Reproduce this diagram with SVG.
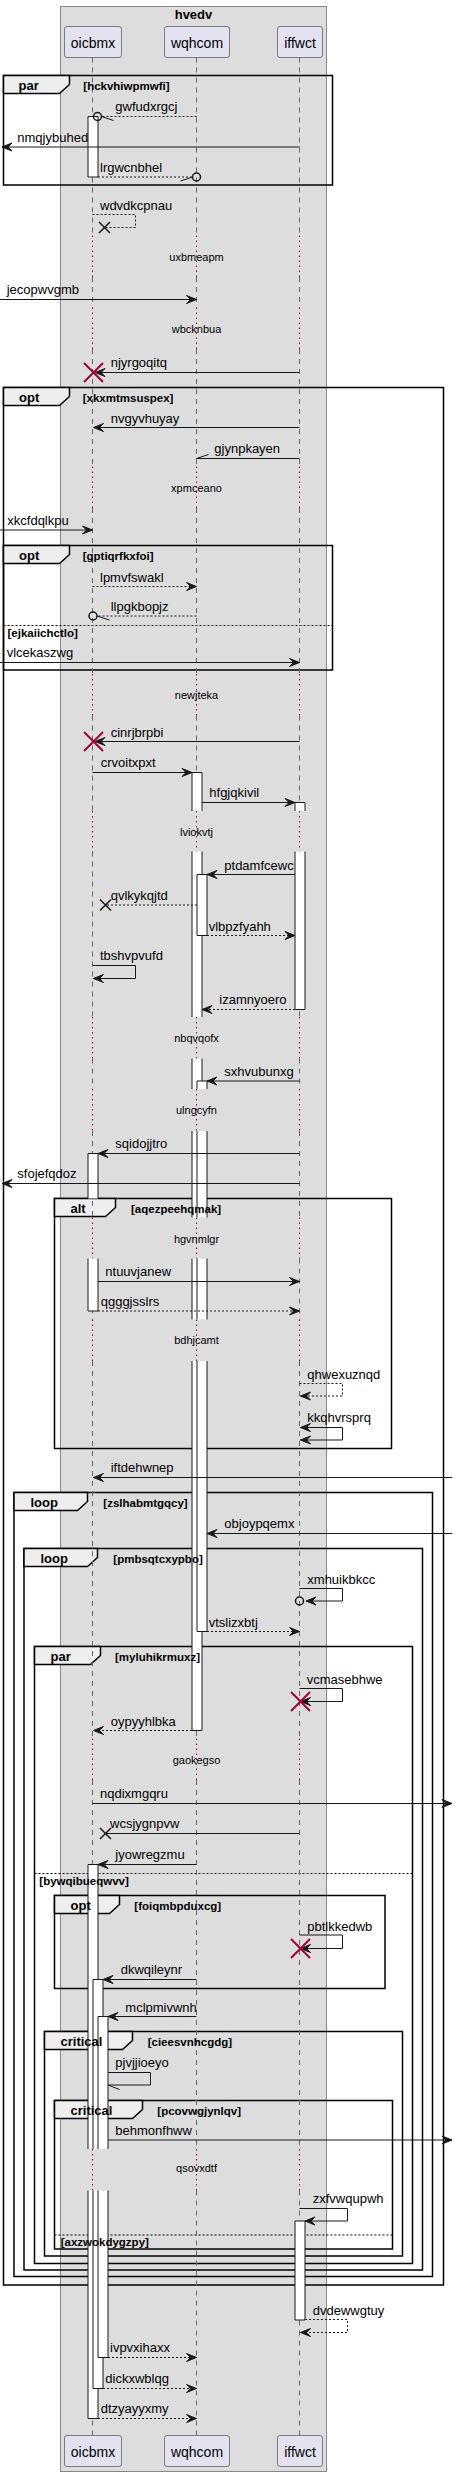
<svg xmlns="http://www.w3.org/2000/svg" width="457" height="2476" viewBox="0 0 457 2476">
<style>
text{font-family:"Liberation Sans",Arial,sans-serif;fill:#000}
.m{font-size:13px}
.dl{font-size:11px;text-anchor:middle}
.fl{font-size:13px;font-weight:bold}
.fc{font-size:11.5px;font-weight:bold}
.pt{font-size:14px;text-anchor:middle}
.ttl{font-size:13px;font-weight:bold;text-anchor:middle}
.ln{stroke:#181818;stroke-width:1;fill:none}
.d{stroke-dasharray:2,2}
.life{stroke:#666;stroke-width:1;stroke-dasharray:5,5;fill:none}
.dot{stroke:#A80036;stroke-width:1;stroke-dasharray:1.5,3.5;fill:none}
.frame{fill:none;stroke:#000;stroke-width:1.5}
.tab{fill:#EEEEEE;stroke:#000;stroke-width:1.5}
.els{stroke:#000;stroke-width:1;stroke-dasharray:2,2}
.bar{fill:#fff;stroke:none}
.be{stroke:#181818;stroke-width:1;fill:none}
.rx{stroke:#A80036;stroke-width:2}
.bx{stroke:#181818;stroke-width:1.5}
.circ{fill:none;stroke:#181818;stroke-width:1.5}
.part{fill:#E2E2F0;stroke:#181818;stroke-width:0.5}
</style>
<defs>
<marker id="ah" markerUnits="userSpaceOnUse" markerWidth="14" markerHeight="12" viewBox="-12 -6 14 12" refX="0" refY="0" orient="auto-start-reverse" overflow="visible">
<path d="M-10,-4 L0,0 L-10,4 L-6,0 Z" fill="#181818" stroke="#181818" stroke-width="1" stroke-dasharray="none"/>
</marker>
</defs>

<g id="box-hvedv">
<rect x="60.5" y="6.5" width="266" height="2465" fill="#DDDDDD" stroke="#888" stroke-width="1"/>
<text class="ttl" x="193.5" y="19">hvedv</text>
</g>

<g id="frames">
<g id="f-par1">
<rect class="frame" x="3.5" y="75.5" width="329" height="109.5"/>
<path class="tab" d="M3.5,75.5 H69.5 V84.5 L59.5,93.5 H3.5 Z"/>
</g>
<g id="f-opt1">
<rect class="frame" x="3.5" y="387.5" width="440" height="1897.5"/>
<path class="tab" d="M3.5,387.5 H69.5 V396.5 L59.5,405.5 H3.5 Z"/>
</g>
<g id="f-opt2">
<rect class="frame" x="3.5" y="545.5" width="329" height="124.5"/>
<path class="tab" d="M3.5,545.5 H69.5 V554.5 L59.5,563.5 H3.5 Z"/>
<line class="els" x1="3.5" y1="625.5" x2="332.5" y2="625.5"/>
</g>
<g id="f-alt">
<rect class="frame" x="54.5" y="1198.5" width="337" height="250"/>
<path class="tab" d="M54.5,1198.5 H115.5 V1207.5 L105.5,1216.5 H54.5 Z"/>
</g>
<g id="f-loop1">
<rect class="frame" x="14" y="1492.5" width="418.5" height="784"/>
<path class="tab" d="M14,1492.5 H87.5 V1501.5 L77.5,1510.5 H14 Z"/>
</g>
<g id="f-loop2">
<rect class="frame" x="24" y="1548.5" width="398.5" height="721.5"/>
<path class="tab" d="M24,1548.5 H97.5 V1557.5 L87.5,1566.5 H24 Z"/>
</g>
<g id="f-par2">
<rect class="frame" x="34.5" y="1646.5" width="378" height="617"/>
<path class="tab" d="M34.5,1646.5 H100.5 V1655.5 L90.5,1664.5 H34.5 Z"/>
<line class="els" x1="34.5" y1="1873.5" x2="412.5" y2="1873.5"/>
</g>
<g id="f-opt3">
<rect class="frame" x="54.5" y="1895.5" width="330.5" height="93"/>
<path class="tab" d="M54.5,1895.5 H119.5 V1904.5 L109.5,1913.5 H54.5 Z"/>
</g>
<g id="f-crit1">
<rect class="frame" x="44.5" y="2031.5" width="358" height="224.5"/>
<path class="tab" d="M44.5,2031.5 H132.5 V2040.5 L122.5,2049.5 H44.5 Z"/>
</g>
<g id="f-crit2">
<rect class="frame" x="54.5" y="2100.5" width="338" height="148.5"/>
<path class="tab" d="M54.5,2100.5 H142.5 V2109.5 L132.5,2118.5 H54.5 Z"/>
<line class="els" x1="54.5" y1="2235" x2="392.5" y2="2235"/>
</g>
</g>

<g id="lifelines">
<path class="life" d="M92.5,57.5 V235.5 M92.5,277 V307.5 M92.5,349 V466.5 M92.5,508 V674 M92.5,715.5 V811 M92.5,851.5 V1017 M92.5,1058.5 V1089 M92.5,1131 V1217.5 M92.5,1258.5 V1319.5 M92.5,1361 V1738.5 M92.5,1780 V2149 M92.5,2190.5 V2435.5"/>
<path class="life" d="M196.5,57.5 V235.5 M196.5,277 V307.5 M196.5,349 V466.5 M196.5,508 V674 M196.5,715.5 V811 M196.5,851.5 V1017 M196.5,1058.5 V1089 M196.5,1131 V1217.5 M196.5,1258.5 V1319.5 M196.5,1361 V1738.5 M196.5,1780 V2149 M196.5,2190.5 V2435.5"/>
<path class="life" d="M299.5,57.5 V235.5 M299.5,277 V307.5 M299.5,349 V466.5 M299.5,508 V674 M299.5,715.5 V811 M299.5,851.5 V1017 M299.5,1058.5 V1089 M299.5,1131 V1217.5 M299.5,1258.5 V1319.5 M299.5,1361 V1738.5 M299.5,1780 V2149 M299.5,2190.5 V2435.5"/>
<path class="dot" d="M92.5,235.5 V277 M92.5,307.5 V349 M92.5,466.5 V508 M92.5,674 V715.5 M92.5,811 V851.5 M92.5,1017 V1058.5 M92.5,1089 V1131 M92.5,1217.5 V1258.5 M92.5,1319.5 V1361 M92.5,1738.5 V1780 M92.5,2149 V2190.5"/>
<path class="dot" d="M196.5,235.5 V277 M196.5,307.5 V349 M196.5,466.5 V508 M196.5,674 V715.5 M196.5,811 V851.5 M196.5,1017 V1058.5 M196.5,1089 V1131 M196.5,1217.5 V1258.5 M196.5,1319.5 V1361 M196.5,1738.5 V1780 M196.5,2149 V2190.5"/>
<path class="dot" d="M299.5,235.5 V277 M299.5,307.5 V349 M299.5,466.5 V508 M299.5,674 V715.5 M299.5,811 V851.5 M299.5,1017 V1058.5 M299.5,1089 V1131 M299.5,1217.5 V1258.5 M299.5,1319.5 V1361 M299.5,1738.5 V1780 M299.5,2149 V2190.5"/>
</g>

<g id="delays">
<text class="dl" x="196.5" y="260.7">uxbmeapm</text>
<text class="dl" x="196.5" y="332.7">wbcknbua</text>
<text class="dl" x="196.5" y="491.7">xpmceano</text>
<text class="dl" x="196.5" y="699.3">newjteka</text>
<text class="dl" x="196.5" y="835.7">lviokvtj</text>
<text class="dl" x="196.5" y="1041.7">nbqvqofx</text>
<text class="dl" x="196.5" y="1114.3">ulngcyfn</text>
<text class="dl" x="196.5" y="1242.7">hgvnmlgr</text>
<text class="dl" x="196.5" y="1344">bdhjcamt</text>
<text class="dl" x="196.5" y="1764">gaokegso</text>
<text class="dl" x="196.5" y="2172.3">qsovxdtf</text>
</g>

<g id="activations">
<rect class="bar" x="88" y="116.5" width="10" height="60.5"/><path class="be" d="M88,116.5 V177 M98,116.5 V177 M88,116.5 H98 M88,177 H98"/>
<rect class="bar" x="88" y="1153.5" width="10" height="45"/><path class="be" d="M88,1153.5 V1198.5 M98,1153.5 V1198.5 M88,1153.5 H98"/>
<rect class="bar" x="88" y="1258.5" width="10" height="52.5"/><path class="be" d="M88,1258.5 V1311 M98,1258.5 V1311 M88,1311 H98"/>
<rect class="bar" x="88" y="1864.5" width="10" height="284.5"/><path class="be" d="M88,1864.5 V2149 M98,1864.5 V2149 M88,1864.5 H98"/>
<rect class="bar" x="88" y="2190.5" width="10" height="228"/><path class="be" d="M88,2190.5 V2418.5 M98,2190.5 V2418.5 M88,2418.5 H98"/>
<rect class="bar" x="93" y="1979.5" width="10" height="169.5"/><path class="be" d="M93,1979.5 V2149 M103,1979.5 V2149 M93,1979.5 H103"/>
<rect class="bar" x="93" y="2190.5" width="10" height="198"/><path class="be" d="M93,2190.5 V2388.5 M103,2190.5 V2388.5 M93,2388.5 H103"/>
<rect class="bar" x="98" y="2016.5" width="10" height="132.5"/><path class="be" d="M98,2016.5 V2149 M108,2016.5 V2149 M98,2016.5 H108"/>
<rect class="bar" x="98" y="2190.5" width="10" height="167"/><path class="be" d="M98,2190.5 V2357.5 M108,2190.5 V2357.5 M98,2357.5 H108"/>
<rect class="bar" x="192" y="772.5" width="10" height="38.5"/><path class="be" d="M192,772.5 V811 M202,772.5 V811 M192,772.5 H202"/>
<rect class="bar" x="192" y="851.5" width="10" height="165.5"/><path class="be" d="M192,851.5 V1017 M202,851.5 V1017"/>
<rect class="bar" x="192" y="1058.5" width="10" height="30.5"/><path class="be" d="M192,1058.5 V1089 M202,1058.5 V1089"/>
<rect class="bar" x="192" y="1131" width="10" height="86.5"/><path class="be" d="M192,1131 V1217.5 M202,1131 V1217.5"/>
<rect class="bar" x="192" y="1258.5" width="10" height="61"/><path class="be" d="M192,1258.5 V1319.5 M202,1258.5 V1319.5"/>
<rect class="bar" x="192" y="1361" width="10" height="369.5"/><path class="be" d="M192,1361 V1730.5 M202,1361 V1730.5 M192,1730.5 H202"/>
<rect class="bar" x="197" y="874.5" width="10" height="61"/><path class="be" d="M197,874.5 V935.5 M207,874.5 V935.5 M197,874.5 H207 M197,935.5 H207"/>
<rect class="bar" x="197" y="1081" width="10" height="8"/><path class="be" d="M197,1081 V1089 M207,1081 V1089 M197,1081 H207"/>
<rect class="bar" x="197" y="1131" width="10" height="86.5"/><path class="be" d="M197,1131 V1217.5 M207,1131 V1217.5"/>
<rect class="bar" x="197" y="1258.5" width="10" height="61"/><path class="be" d="M197,1258.5 V1319.5 M207,1258.5 V1319.5"/>
<rect class="bar" x="197" y="1361" width="10" height="270.5"/><path class="be" d="M197,1361 V1631.5 M207,1361 V1631.5 M197,1631.5 H207"/>
<rect class="bar" x="295" y="802.5" width="10" height="8.5"/><path class="be" d="M295,802.5 V811 M305,802.5 V811 M295,802.5 H305"/>
<rect class="bar" x="295" y="851.5" width="10" height="158"/><path class="be" d="M295,851.5 V1009.5 M305,851.5 V1009.5 M295,1009.5 H305"/>
<rect class="bar" x="295" y="2221" width="10" height="99"/><path class="be" d="M295,2221 V2320 M305,2221 V2320 M295,2221 H305 M295,2320 H305"/>
</g>

<g id="frame-labels">
<text class="fl" x="18.5" y="89.8">par</text>
<text class="fc" x="83.3" y="89.8">[hckvhiwpmwfi]</text>
<text class="fl" x="19" y="401.8">opt</text>
<text class="fc" x="82.7" y="401.8">[xkxmtmsuspex]</text>
<text class="fl" x="19" y="559.8">opt</text>
<text class="fc" x="82.7" y="559.8">[gptiqrfkxfoi]</text>
<text class="fc" x="7.5" y="636.8">[ejkaiichctlo]</text>
<text class="fl" x="70.5" y="1212.8">alt</text>
<text class="fc" x="131" y="1212.8">[aqezpeehqmak]</text>
<text class="fl" x="30.5" y="1506.8">loop</text>
<text class="fc" x="103.3" y="1506.8">[zslhabmtgqcy]</text>
<text class="fl" x="40.5" y="1562.8">loop</text>
<text class="fc" x="113.3" y="1562.8">[pmbsqtcxypbo]</text>
<text class="fl" x="50.5" y="1660.8">par</text>
<text class="fc" x="115" y="1660.8">[myluhikrmuxz]</text>
<text class="fc" x="39.3" y="1884.5">[bywqibueqwvv]</text>
<text class="fl" x="70.5" y="1909.8">opt</text>
<text class="fc" x="134.3" y="1909.8">[foiqmbpduxcg]</text>
<text class="fl" x="60.5" y="2045.8">critical</text>
<text class="fc" x="147.7" y="2045.8">[cieesvnhcgdg]</text>
<text class="fl" x="70.5" y="2114.8">critical</text>
<text class="fc" x="157.3" y="2114.8">[pcovwgjynlqv]</text>
<text class="fc" x="60.7" y="2246.3">[axzwokdygzpy]</text>
</g>

<g id="connectors">
<line class="ln d" x1="196.5" y1="116.5" x2="101.5" y2="116.5"/><circle class="circ" cx="97.5" cy="116.5" r="4"/><line class="ln" x1="101.5" y1="116.5" x2="113.5" y2="120.5"/>
<text class="m" x="115.3" y="111.3">gwfudxrgcj</text>
<line class="ln" x1="299.5" y1="147" x2="2" y2="147" marker-end="url(#ah)"/>
<text class="m" x="17.3" y="141.7">nmqjybuhed</text>
<line class="ln d" x1="98" y1="177" x2="192.5" y2="177"/><circle class="circ" cx="196.5" cy="177" r="4"/><line class="ln" x1="192.5" y1="177" x2="180.5" y2="181"/>
<text class="m" x="100" y="172">lrgwcnbhel</text>
<path class="ln d" d="M92.5,214.5 H135.5 V227.5 H104.5"/>
<path class="bx" d="M99,222 L110,233 M110,222 L99,233"/>
<text class="m" x="100" y="209.5">wdvdkcpnau</text>
<line class="ln" x1="0" y1="299.5" x2="196.5" y2="299.5" marker-end="url(#ah)"/>
<text class="m" x="6.7" y="294.3">jecopwvgmb</text>
<line class="ln" x1="299.5" y1="372.5" x2="95" y2="372.5" marker-end="url(#ah)"/>
<path class="rx" d="M84,363 L103,382 M103,363 L84,382"/>
<text class="m" x="110.7" y="367.3">njyrgoqitq</text>
<line class="ln" x1="299.5" y1="427.5" x2="93.5" y2="427.5" marker-end="url(#ah)"/>
<text class="m" x="110.7" y="422.5">nvgyvhuyay</text>
<line class="ln" x1="299.5" y1="458.5" x2="196.5" y2="458.5"/><line class="ln" x1="196.5" y1="458.5" x2="208.5" y2="454.5"/>
<text class="m" x="214.3" y="453">gjynpkayen</text>
<line class="ln" x1="0" y1="530" x2="92.5" y2="530" marker-end="url(#ah)"/>
<text class="m" x="7.3" y="525">xkcfdqlkpu</text>
<line class="ln d" x1="92.5" y1="586.5" x2="196.5" y2="586.5" marker-end="url(#ah)"/>
<text class="m" x="100" y="581.5">lpmvfswakl</text>
<line class="ln d" x1="196.5" y1="616" x2="97" y2="616"/><circle class="circ" cx="93" cy="616" r="4"/><line class="ln" x1="97" y1="616" x2="109.5" y2="620"/>
<text class="m" x="110.7" y="611">llpgkbopjz</text>
<line class="ln" x1="0" y1="662.5" x2="299.5" y2="662.5" marker-end="url(#ah)"/>
<text class="m" x="6.7" y="657.3">vlcekaszwg</text>
<line class="ln" x1="299.5" y1="741.5" x2="95" y2="741.5" marker-end="url(#ah)"/>
<path class="rx" d="M84,732 L103,751 M103,732 L84,751"/>
<text class="m" x="110.7" y="736.5">cinrjbrpbi</text>
<line class="ln" x1="92.5" y1="772.5" x2="192" y2="772.5" marker-end="url(#ah)"/>
<text class="m" x="100.7" y="767">crvoitxpxt</text>
<line class="ln" x1="202" y1="802.5" x2="295" y2="802.5" marker-end="url(#ah)"/>
<text class="m" x="209.3" y="797.3">hfgjqkivil</text>
<line class="ln" x1="295" y1="874.5" x2="207" y2="874.5" marker-end="url(#ah)"/>
<text class="m" x="224.3" y="869.5">ptdamfcewc</text>
<line class="ln d" x1="197" y1="905" x2="105.5" y2="905"/>
<path class="bx" d="M100,899.5 L111,910.5 M111,899.5 L100,910.5"/>
<text class="m" x="110.7" y="900">qvlkykqjtd</text>
<line class="ln d" x1="207" y1="935.5" x2="295" y2="935.5" marker-end="url(#ah)"/>
<text class="m" x="208.7" y="930.5">vlbpzfyahh</text>
<path class="ln" d="M92.5,965.5 H135.5 V978.5 H93.5" marker-end="url(#ah)"/>
<text class="m" x="100" y="960.3">tbshvpvufd</text>
<line class="ln d" x1="295" y1="1009.5" x2="202" y2="1009.5" marker-end="url(#ah)"/>
<text class="m" x="219.3" y="1004.3">izamnyoero</text>
<line class="ln" x1="299.5" y1="1081" x2="207" y2="1081" marker-end="url(#ah)"/>
<text class="m" x="224.3" y="1076">sxhvubunxg</text>
<line class="ln" x1="299.5" y1="1153.5" x2="98" y2="1153.5" marker-end="url(#ah)"/>
<text class="m" x="115.3" y="1148.3">sqidojjtro</text>
<line class="ln" x1="299.5" y1="1183.5" x2="2" y2="1183.5" marker-end="url(#ah)"/>
<text class="m" x="17.3" y="1178.3">sfojefqdoz</text>
<line class="ln" x1="98" y1="1281.5" x2="299.5" y2="1281.5" marker-end="url(#ah)"/>
<text class="m" x="105.3" y="1276.3">ntuuvjanew</text>
<line class="ln d" x1="98" y1="1311" x2="299.5" y2="1311" marker-end="url(#ah)"/>
<text class="m" x="100.7" y="1306">qgggjsslrs</text>
<path class="ln d" d="M299.5,1383.5 H342.5 V1396 H300.5" marker-end="url(#ah)"/>
<text class="m" x="307.3" y="1379">qhwexuznqd</text>
<path class="ln" d="M300.5,1427.5 H342.5 V1440 H300.5" marker-start="url(#ah)" marker-end="url(#ah)"/>
<text class="m" x="307.3" y="1422">kkqhvrsprq</text>
<line class="ln" x1="452" y1="1477.5" x2="93.5" y2="1477.5" marker-end="url(#ah)"/>
<text class="m" x="110.7" y="1472.3">iftdehwnep</text>
<line class="ln" x1="452" y1="1533.5" x2="207" y2="1533.5" marker-end="url(#ah)"/>
<text class="m" x="224.3" y="1528.3">objoypqemx</text>
<path class="ln" d="M299.5,1588.5 H342.5 V1601 H306" marker-end="url(#ah)"/><circle class="circ" cx="299.5" cy="1601" r="4"/>
<text class="m" x="307.3" y="1584">xmhuikbkcc</text>
<line class="ln d" x1="207" y1="1631.5" x2="299.5" y2="1631.5" marker-end="url(#ah)"/>
<text class="m" x="208.7" y="1626.5">vtslizxbtj</text>
<path class="ln" d="M299.5,1688.5 H342.5 V1701.5 H300.5" marker-end="url(#ah)"/>
<path class="rx" d="M291,1692 L310,1711 M310,1692 L291,1711"/>
<text class="m" x="306.7" y="1683.5">vcmasebhwe</text>
<line class="ln d" x1="192" y1="1730.5" x2="93.5" y2="1730.5" marker-end="url(#ah)"/>
<text class="m" x="110.7" y="1725.5">oypyyhlbka</text>
<line class="ln" x1="92.5" y1="1803.5" x2="452" y2="1803.5" marker-end="url(#ah)"/>
<text class="m" x="100" y="1798.3">nqdixmgqru</text>
<line class="ln" x1="299.5" y1="1833.5" x2="105.5" y2="1833.5"/>
<path class="bx" d="M100,1828 L111,1839 M111,1828 L100,1839"/>
<text class="m" x="110" y="1828.3">wcsjygnpvw</text>
<line class="ln" x1="196.5" y1="1864.5" x2="98" y2="1864.5" marker-end="url(#ah)"/>
<text class="m" x="115.3" y="1859.3">jyowregzmu</text>
<path class="ln" d="M299.5,1935 H342.5 V1948.5 H300.5" marker-end="url(#ah)"/>
<path class="rx" d="M291,1939 L310,1958 M310,1939 L291,1958"/>
<text class="m" x="307.3" y="1930.5">pbtlkkedwb</text>
<line class="ln" x1="196.5" y1="1979.5" x2="103" y2="1979.5" marker-end="url(#ah)"/>
<text class="m" x="120.7" y="1974.3">dkwqileynr</text>
<line class="ln" x1="196.5" y1="2016.5" x2="108" y2="2016.5" marker-end="url(#ah)"/>
<text class="m" x="125.3" y="2011.5">mclpmivwnh</text>
<path class="ln" d="M108,2072.5 H150.5 V2085 H108"/><line class="ln" x1="108" y1="2085" x2="119.5" y2="2089.5"/>
<text class="m" x="115.3" y="2067.3">pjvjjioeyo</text>
<line class="ln" x1="108" y1="2140" x2="452" y2="2140" marker-end="url(#ah)"/>
<text class="m" x="115.3" y="2135">behmonfhww</text>
<path class="ln" d="M299.5,2208.5 H347.5 V2221 H305" marker-end="url(#ah)"/>
<text class="m" x="312.7" y="2203">zxfvwqupwh</text>
<path class="ln d" d="M305,2319.5 H347.5 V2332.5 H300.5" marker-end="url(#ah)"/>
<text class="m" x="312.7" y="2314.5">dvdewwgtuy</text>
<line class="ln d" x1="108" y1="2357.5" x2="196.5" y2="2357.5" marker-end="url(#ah)"/>
<text class="m" x="110" y="2352.3">ivpvxihaxx</text>
<line class="ln d" x1="103" y1="2388.5" x2="196.5" y2="2388.5" marker-end="url(#ah)"/>
<text class="m" x="105.3" y="2383.3">dickxwblqg</text>
<line class="ln d" x1="98" y1="2418.5" x2="196.5" y2="2418.5" marker-end="url(#ah)"/>
<text class="m" x="100.7" y="2413.3">dtzyayyxmy</text>
</g>

<g id="p-oicbmx">
<rect class="part" x="64.5" y="26.5" width="57" height="31" rx="2.5"/>
<text class="pt" x="93" y="48">oicbmx</text>
<rect class="part" x="64.5" y="2435.5" width="57" height="31" rx="2.5"/>
<text class="pt" x="93" y="2457">oicbmx</text>
</g>
<g id="p-wqhcom">
<rect class="part" x="164.5" y="26.5" width="65" height="31" rx="2.5"/>
<text class="pt" x="197" y="48">wqhcom</text>
<rect class="part" x="164.5" y="2435.5" width="65" height="31" rx="2.5"/>
<text class="pt" x="197" y="2457">wqhcom</text>
</g>
<g id="p-iffwct">
<rect class="part" x="277.5" y="26.5" width="45" height="31" rx="2.5"/>
<text class="pt" x="300" y="48">iffwct</text>
<rect class="part" x="277.5" y="2435.5" width="45" height="31" rx="2.5"/>
<text class="pt" x="300" y="2457">iffwct</text>
</g>
</svg>
